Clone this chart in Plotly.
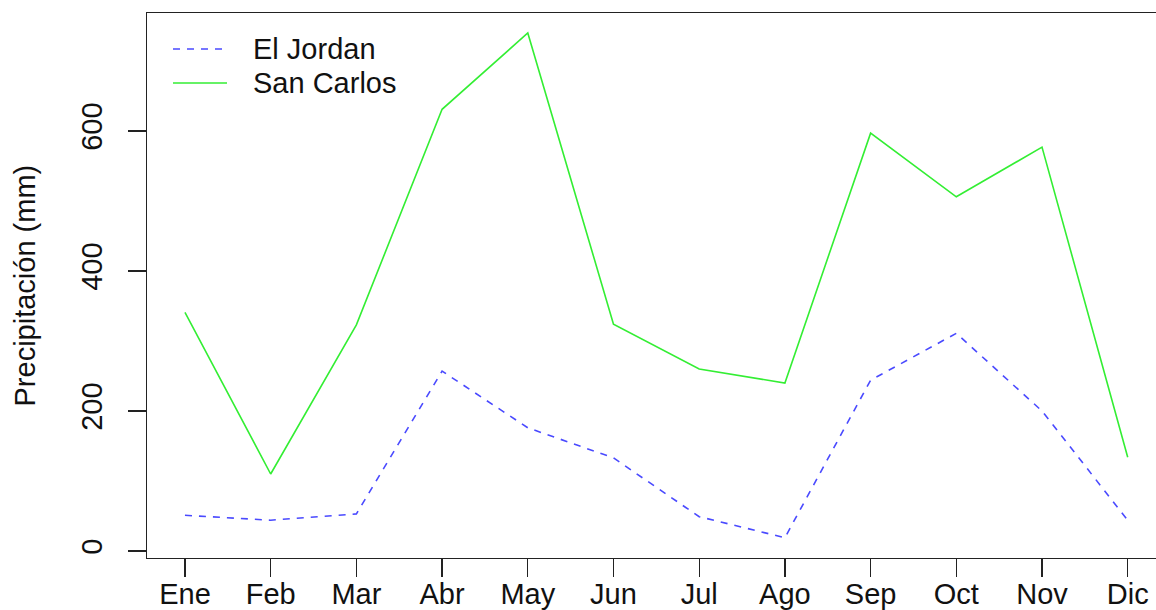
import plotly.graph_objects as go

months = ["Ene", "Feb", "Mar", "Abr", "May", "Jun", "Jul", "Ago", "Sep", "Oct", "Nov", "Dic"]
el_jordan = [51, 44, 53, 257, 176, 133, 49, 19, 244, 311, 200, 44]
san_carlos = [341, 110, 323, 631, 740, 324, 260, 240, 597, 506, 577, 134]
y_ticks = [0, 200, 400, 600]

series = [
    ("El Jordan", el_jordan, "#4a4aff", "7px,7px"),
    ("San Carlos", san_carlos, "#33ee33", "solid"),
]

FONT = "Liberation Sans, Arial, sans-serif"
W, H = 1156, 610
L, R, T, B = 147, 0, 13, 52

fig = go.Figure()
for name, vals, color, dash in series:
    fig.add_trace(go.Scatter(
        x=list(range(len(months))), y=vals, mode="lines", name=name,
        line=dict(color=color, width=1.6, dash=dash), showlegend=False,
    ))

# manual legend (R style)
for i, (name, vals, color, dash) in enumerate(series):
    ypx = -(36 + 34 * i)
    fig.add_shape(type="line", xref="paper", yref="paper",
                  xsizemode="pixel", ysizemode="pixel", xanchor=0, yanchor=1,
                  x0=26, x1=80, y0=ypx, y1=ypx,
                  line=dict(color=color, width=1.6, dash=dash))
    fig.add_annotation(xref="paper", yref="paper", x=0, y=1, xshift=104, yshift=ypx,
                       text=name, showarrow=False, xanchor="left", yanchor="middle",
                       font=dict(family=FONT, size=29, color="#111"))

fig.add_annotation(xref="paper", yref="paper", x=0, y=0.5, xshift=-123,
                   text="Precipitación (mm)", textangle=-90, showarrow=False,
                   xanchor="center", yanchor="middle",
                   font=dict(family=FONT, size=29, color="#111"))

fig.update_layout(
    width=W, height=H,
    margin=dict(l=L, r=R, t=T, b=B, autoexpand=False),
    paper_bgcolor="white", plot_bgcolor="white",
    font=dict(family=FONT, size=29, color="#111"),
    hovermode=False,
)
fig.update_xaxes(
    range=[-0.443, 11.33], tickvals=list(range(len(months))), ticktext=months,
    showgrid=False, zeroline=False, showline=True, mirror=True,
    linecolor="#222", linewidth=1.2, ticks="outside", ticklen=18,
    tickcolor="#222", tickwidth=1.2, tickfont=dict(size=29),
    ticklabelstandoff=-8,
)
fig.update_yaxes(
    range=[-10, 768.6], tickvals=y_ticks, ticktext=[str(v) for v in y_ticks],
    showgrid=False, zeroline=False, showline=True, mirror=False,
    linecolor="#222", linewidth=1.2, ticks="outside", ticklen=18,
    tickcolor="#222", tickwidth=1.2, tickangle=-90, tickfont=dict(size=29),
    ticklabelstandoff=14,
)

fig.write_html(
    "out.html",
    config={"displayModeBar": False, "staticPlot": True},
    post_script="document.body.style.margin='0';document.body.style.overflow='hidden';",
)
